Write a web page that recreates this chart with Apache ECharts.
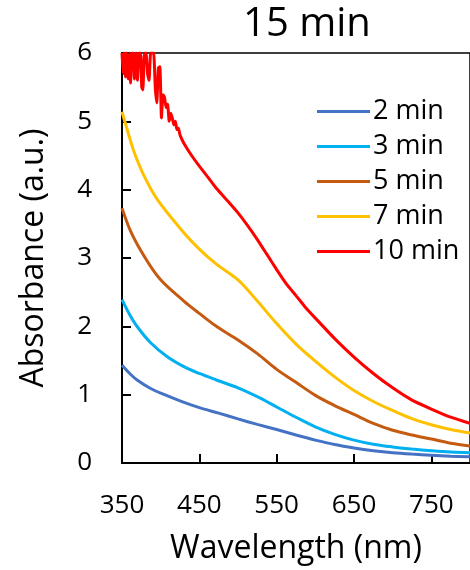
<!DOCTYPE html>
<html>
<head>
<meta charset="utf-8">
<script src="https://cdn.jsdelivr.net/npm/echarts@6/dist/echarts.min.js"></script>
<style>
    html, body { margin: 0; padding: 0; background: #fff; }
    #chart { width: 470px; height: 570px; }
</style>
</head>
<body>
<div id="chart"></div>
<script>
// Données : [longueur d'onde (nm), absorbance]
const seriesNames = ["2 min", "3 min", "5 min", "7 min", "10 min"];
const seriesColors = ["#4472C4", "#00B0F0", "#C55A11", "#FFC000", "#FF0000"];

const abs2min = [
    [350, 1.43], [360, 1.31], [370, 1.21], [387, 1.09], [405, 1.00], [425, 0.91],
    [450, 0.81], [475, 0.73], [500, 0.645], [525, 0.565], [550, 0.49], [575, 0.41],
    [600, 0.335], [625, 0.27], [650, 0.22], [675, 0.18], [700, 0.15], [725, 0.13],
    [750, 0.115], [775, 0.10], [800, 0.09]
];

const abs3min = [
    [350, 2.39], [360, 2.17], [370, 1.99], [387, 1.76], [409, 1.55], [430, 1.41],
    [450, 1.31], [472, 1.215], [500, 1.10], [525, 0.97], [550, 0.82], [575, 0.67],
    [600, 0.53], [625, 0.42], [650, 0.335], [675, 0.275], [700, 0.235], [725, 0.205],
    [750, 0.18], [775, 0.16], [800, 0.15]
];

const abs5min = [
    [350, 3.73], [362, 3.37], [379, 3.02], [400, 2.68], [430, 2.37], [450, 2.19],
    [472, 2.00], [500, 1.80], [525, 1.60], [550, 1.37], [575, 1.18], [600, 0.99],
    [625, 0.84], [650, 0.71], [675, 0.58], [700, 0.48], [725, 0.41], [750, 0.35],
    [775, 0.29], [800, 0.25]
];

const abs7min = [
    [350, 5.14], [358, 4.83], [366, 4.54], [379, 4.19], [396, 3.85], [430, 3.37],
    [450, 3.13], [472, 2.91], [500, 2.68], [525, 2.37], [550, 2.04], [575, 1.74],
    [600, 1.49], [625, 1.26], [650, 1.06], [675, 0.90], [700, 0.77], [725, 0.65],
    [750, 0.56], [775, 0.49], [800, 0.44]
];

// Le spectre à 10 min sature (bruit) en dessous de ~425 nm
const abs10min = [
    [350, 6.0], [351.5, 5.70], [353, 6.0], [354.5, 5.65], [356, 6.0], [358, 5.62],
    [360, 6.0], [361, 5.56], [363, 6.0], [365, 6.0], [366, 5.62], [368, 6.0],
    [370, 5.60], [372, 6.0], [374, 6.0], [375.5, 5.50], [377, 5.46], [379, 6.0],
    [381, 6.0], [383, 5.70], [385, 5.60], [387, 6.0], [389, 6.0], [391, 6.0],
    [393, 5.50], [395, 5.27], [397, 5.78], [399, 5.80], [401, 5.05], [403, 5.39],
    [405, 5.35], [407, 5.20], [409, 5.25], [411, 5.00], [413, 5.12], [415, 5.05],
    [417, 4.95], [419, 5.00], [421, 4.88], [423, 4.90], [425, 4.80], [430, 4.68],
    [440, 4.50], [451, 4.33], [462, 4.17], [472, 4.02], [487, 3.83], [500, 3.66],
    [512, 3.48], [525, 3.27], [537, 3.06], [550, 2.83], [562, 2.63], [575, 2.45],
    [587, 2.28], [600, 2.12], [625, 1.82], [650, 1.55], [675, 1.31], [700, 1.10],
    [725, 0.92], [750, 0.79], [775, 0.67], [800, 0.58]
];

const allSeries = [abs2min, abs3min, abs5min, abs7min, abs10min];

const FONT = "Open Sans";

const chart = echarts.init(document.getElementById("chart"), null, { renderer: "canvas" });

chart.setOption({
    animation: false,
    title: {
        text: "15 min",
        left: 302,
        top: 0,
        textAlign: "center",
        textStyle: { fontFamily: FONT, fontSize: 40, fontWeight: "normal", color: "#000" }
    },
    legend: {
        orient: "vertical",
        left: 312,
        top: 89,
        itemWidth: 53,
        itemHeight: 3,
        itemGap: 0,
        icon: "rect",
        data: seriesNames,
        textStyle: { fontFamily: FONT, fontSize: 27, color: "#000", lineHeight: 35, padding: [0, 0, 0, -2] }
    },
    grid: {
        left: 122,
        top: 53,
        right: -5,
        bottom: 107,
        show: true,
        borderColor: "#000",
        borderWidth: 1.5
    },
    xAxis: {
        type: "value",
        min: 350,
        max: 800,
        interval: 100,
        name: "Wavelength (nm)",
        nameLocation: "middle",
        nameGap: 70,
        nameTextStyle: { fontFamily: FONT, fontSize: 32, color: "#000" },
        axisLine: { lineStyle: { color: "#000", width: 2 } },
        axisTick: { inside: true, length: 9, lineStyle: { color: "#000", width: 2 } },
        axisLabel: { fontFamily: FONT, fontSize: 26, color: "#000", margin: 30, showMaxLabel: false },
        splitLine: { show: false }
    },
    yAxis: {
        type: "value",
        min: 0,
        max: 6,
        interval: 1,
        name: "Absorbance (a.u.)",
        nameLocation: "middle",
        nameGap: 72,
        nameTextStyle: { fontFamily: FONT, fontSize: 32, color: "#000" },
        axisLine: { show: true, lineStyle: { color: "#000", width: 2 } },
        axisTick: { show: true, inside: true, length: 9, lineStyle: { color: "#000", width: 2 } },
        axisLabel: { fontFamily: FONT, fontSize: 26, color: "#000", margin: 30 },
        splitLine: { show: false }
    },
    series: allSeries.map((data, i) => ({
        name: seriesNames[i],
        type: "line",
        data,
        symbol: "none",
        smooth: i < 4 ? 0.35 : 0.15,
        clip: true,
        itemStyle: { color: seriesColors[i] },
        lineStyle: { color: seriesColors[i], width: 3 }
    }))
});
</script>
</body>
</html>
